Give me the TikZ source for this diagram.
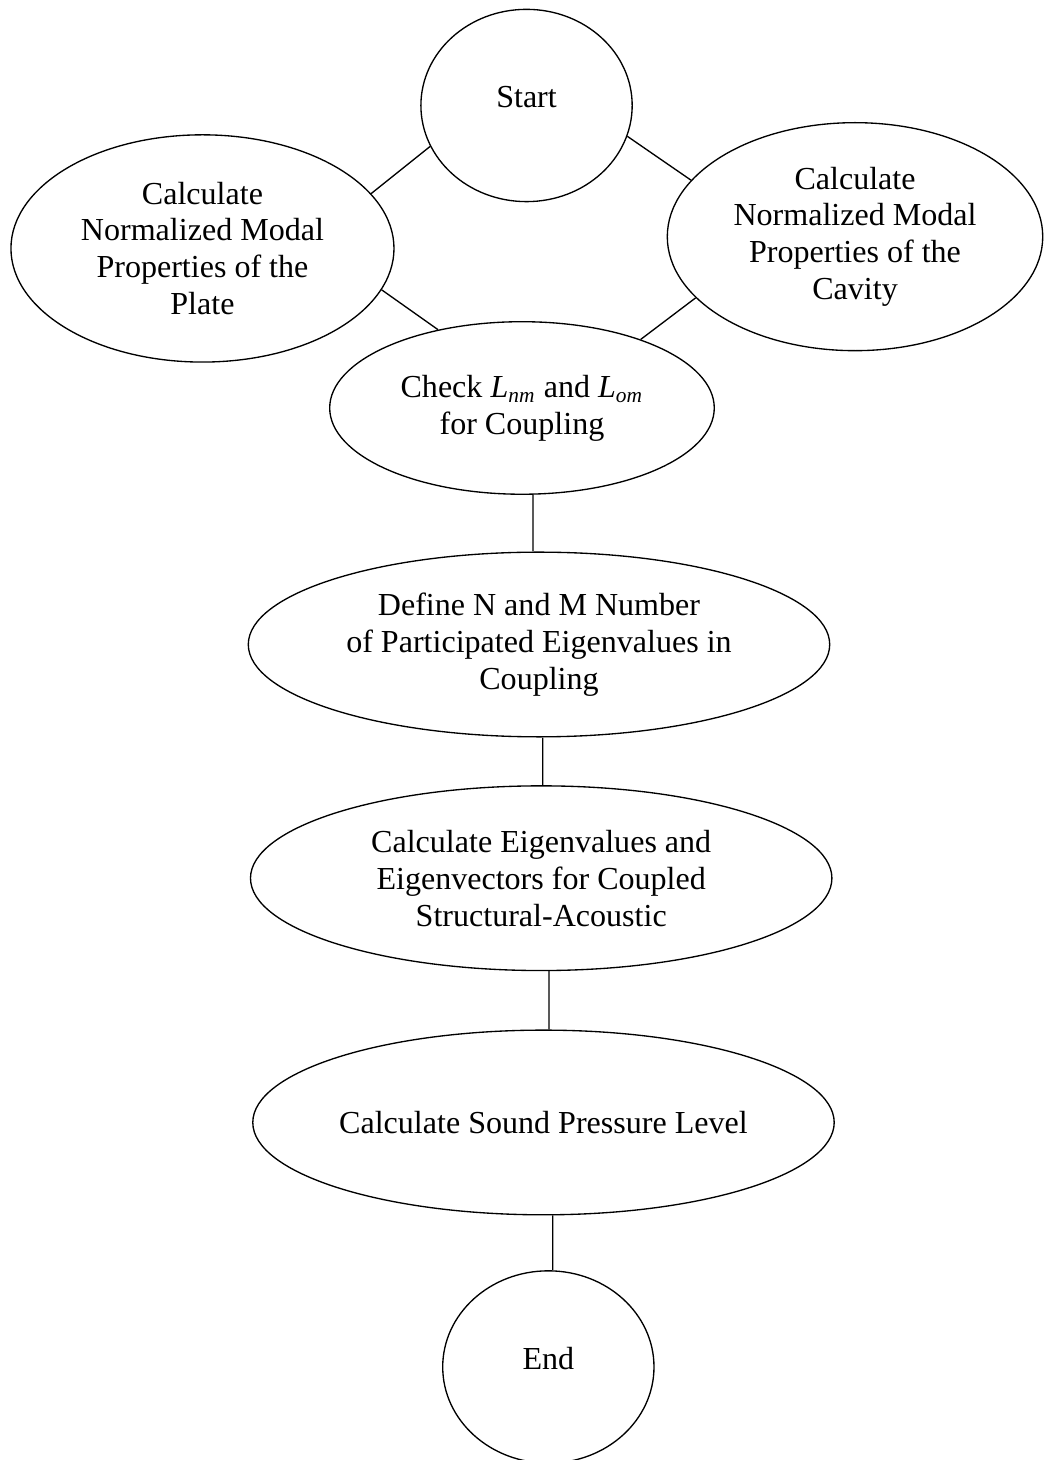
\documentclass[tikz,border=0pt]{standalone}
\usepackage{fontspec}
\setmainfont{Liberation Serif}
\usetikzlibrary{shapes.geometric}

\begin{document}
\begin{tikzpicture}[
    stage/.style={ellipse, draw, line width=0.5pt, inner sep=-1cm, align=center,
                  font=\fontsize{12pt}{13.8pt}\selectfont},
    term/.style={stage, minimum width=2.78cm, minimum height=2.53cm, text depth=6.5pt},
    link/.style={line width=0.5pt}
]
    \useasboundingbox (0,0) rectangle (13.724,19.21);

    % Define nodes with specified styles
    \node[term] at (6.928,17.822) (start) {Start};
    \node[stage, minimum width=5.04cm, minimum height=2.99cm] at (2.664,15.941) (plate)
        {Calculate\\Normalized Modal\\Properties of the\\Plate};
    \node[stage, minimum width=4.94cm, minimum height=3.00cm] at (11.250,16.096) (cavity)
        {Calculate\\Normalized Modal\\Properties of the\\Cavity};
    \node[stage, minimum width=5.06cm, minimum height=2.27cm] at (6.868,13.842) (check)
        {Check \textit{L\textsubscript{nm}} and \textit{L\textsubscript{om}}\\for Coupling};
    \node[stage, minimum width=7.65cm, minimum height=2.43cm] at (7.092,10.730) (define)
        {Define N and M Number\\of Participated Eigenvalues in\\Coupling};
    \node[stage, minimum width=7.65cm, minimum height=2.43cm] at (7.121,7.655) (eigen)
        {Calculate Eigenvalues and\\Eigenvectors for Coupled\\Structural-Acoustic};
    \node[stage, minimum width=7.65cm, minimum height=2.43cm] at (7.151,4.441) (sound)
        {Calculate Sound Pressure Level};
    \node[term] at (7.215,1.224) (end) {End};

    % Draw the links of the top group
    \draw[link] (start.203.9) -- (plate.18.8);
    \draw[link] (start.343.3) -- (cavity.161.3);
    \draw[link] (plate.347.9) -- (check.137.6);
    \draw[link] (cavity.201.05) -- (check.30.2);

    % Draw the vertical links
    \draw[link] ([xshift=0.145cm]check.south) -- ([xshift=-0.079cm]define.north);
    \draw[link] ([xshift=0.049cm]define.south) -- ([xshift=0.02cm]eigen.north);
    \draw[link] ([xshift=0.103cm]eigen.south) -- ([xshift=0.072cm]sound.north);
    \draw[link] ([xshift=0.121cm]sound.south) -- ([xshift=0.058cm]end.north);

\end{tikzpicture}
\end{document}
